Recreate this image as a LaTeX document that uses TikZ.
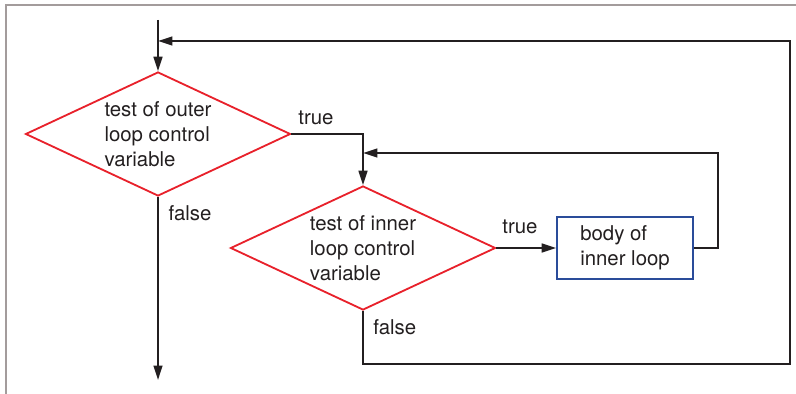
\documentclass[tikz,border=0pt]{standalone}
\usepackage{fontspec}
\setsansfont{TeX Gyre Heros}
\usepackage{xcolor}
\usepackage{tikz}
\usetikzlibrary{shapes.geometric, arrows.meta, positioning, calc}
\definecolor{testred}{HTML}{E8212B}
\definecolor{bodyblue}{HTML}{2A4C9A}
\definecolor{frameGray}{HTML}{A39C9C}
\definecolor{inkdark}{HTML}{231F20}
\tikzset{
  testdiamond/.style={
    diamond, draw=testred, line width=1.3pt, aspect=2.14, inner sep=0pt,
    minimum width=6.625cm, minimum height=3.1cm, align=left,
    font=\sffamily\fontsize{14.5}{17.8}\selectfont, text=inkdark
  },
  bodybox/.style={
    rectangle, draw=bodyblue, line width=1.3pt, align=left,
    minimum width=3.4cm, minimum height=1.55cm,
    font=\sffamily\fontsize{14.5}{17.8}\selectfont, text=inkdark
  },
  flowarrow/.style={
    -{Triangle[length=0.36cm, width=0.22cm]}, line width=1.4pt, color=inkdark
  },
  flowline/.style={line width=1.4pt, color=inkdark},
  flowlabel/.style={
    font=\sffamily\fontsize{14.5}{17.8}\selectfont, text=inkdark, inner sep=0pt
  },
}
\begin{document}
\begin{tikzpicture}
  \useasboundingbox (0,0) rectangle (19.9,-9.85);

  % Frame
  \draw[frameGray, line width=1.1pt] (0.15,-9.85) -- (0.15,-0.125) -- (19.9,-0.125);

  % Tests and body
  \node[testdiamond] (outer) at (3.95,-3.35) {test of outer\\loop control\\variable};
  \node[testdiamond] (inner) at (9.075,-6.2) {test of inner\\loop control\\variable};
  \node[bodybox] (body) at (15.625,-6.2) {body of\\inner loop};

  % Junction points
  \coordinate (start) at (3.95,-0.5);
  \coordinate (outerjoin) at (3.95,-1.025);
  \coordinate (innerjoin) at (9.075,-3.825);
  \coordinate (bodyturn) at (17.95,-6.2);
  \coordinate (loopcorner) at (19.75,-9.1);
  \coordinate (outerexit) at (3.95,-9.5);

  % Connectors
  \draw[flowarrow] (start) -- (outer.north);
  \draw[flowarrow] (outer.east) -| (inner.north);
  \draw[flowarrow] (inner.east) -- (body.west);
  \draw[flowarrow] (body.east) -- (bodyturn) |- (innerjoin);
  \draw[flowarrow] (inner.south) |- (loopcorner) |- (outerjoin);
  \draw[flowarrow] (outer.south) -- (outerexit);

  % Labels
  \node[flowlabel] (outertrue) at (7.9,-2.95) {true};
  \node[flowlabel] (outerfalse) at (4.75,-5.33) {false};
  \node[flowlabel] (innertrue) at (13.0,-5.67) {true};
  \node[flowlabel] (innerfalse) at (9.87,-8.17) {false};
\end{tikzpicture}
\end{document}
